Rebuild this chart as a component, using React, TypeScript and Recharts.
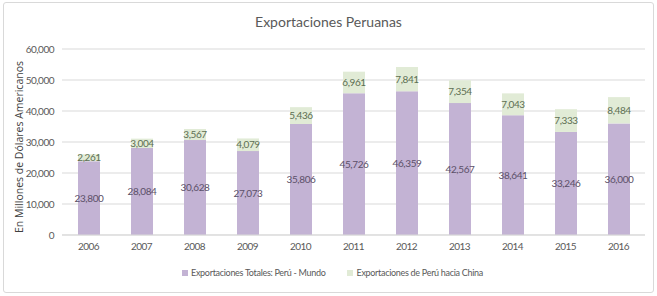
import { Bar, BarChart, CartesianGrid, LabelList, Legend, XAxis, YAxis } from 'recharts'

const years = ['2006', '2007', '2008', '2009', '2010', '2011', '2012', '2013', '2014', '2015', '2016']
const mundo = [23800, 28084, 30628, 27073, 35806, 45726, 46359, 42567, 38641, 33246, 36000]
const china = [2261, 3004, 3567, 4079, 5436, 6961, 7841, 7354, 7043, 7333, 8484]
const yTicks = [0, 10000, 20000, 30000, 40000, 50000, 60000]

// Calibri-like look: Lato squeezed a little
const FONT = 'Lato, sans-serif'
const PURPLE = '#c3b3d4'
const GREEN = '#e1ebd6'

const fmt = (v: number) => v.toLocaleString('en-US')

function LegendBox() {
  const item = (color: string, text: string) => (
    <div style={{ display: 'flex', alignItems: 'center', gap: 3 }}>
      <span style={{ width: 6, height: 6, background: color, display: 'inline-block' }} />
      <span>{text}</span>
    </div>
  )
  return (
    <div
      style={{
        display: 'flex',
        justifyContent: 'center',
        gap: 22,
        fontFamily: FONT,
        fontSize: 9,
        letterSpacing: -0.3,
        color: '#595959',
        paddingLeft: 8,
      }}
    >
      {item(PURPLE, 'Exportaciones Totales: Perú - Mundo')}
      {item(GREEN, 'Exportaciones de Perú hacia China')}
    </div>
  )
}

export default function App() {
  const chartData = years.map((year, i) => ({
    year,
    mundo: mundo[i],
    china: china[i],
  }))

  const tickStyle = { fontSize: 10, fill: '#595959', fontFamily: FONT, letterSpacing: -0.5 }

  return (
    <div style={{ position: 'absolute', left: 0, top: 0, width: 657, height: 296, background: '#fff' }}>
      <div
        style={{
          position: 'absolute',
          left: 3,
          top: 2,
          width: 649,
          height: 289,
          border: '1px solid #d9d9d9',
          borderRadius: 3,
        }}
      />
      <div
        style={{
          position: 'absolute',
          left: 0,
          top: 13,
          width: 657,
          textAlign: 'center',
          fontFamily: FONT,
          fontSize: 14,
          color: '#595959',
        }}
      >
        Exportaciones Peruanas
      </div>
      <BarChart
        width={657}
        height={296}
        data={chartData}
        margin={{ top: 49, right: 12, bottom: 36, left: 0 }}
        barSize={22}
        style={{ position: 'absolute', left: 0, top: 0 }}
      >
        <CartesianGrid vertical={false} stroke='#d9d9d9' />
        <XAxis
          dataKey='year'
          tickLine={false}
          axisLine={{ stroke: '#d9d9d9' }}
          height={25}
          tick={tickStyle}
        />
        <YAxis
          width={62}
          domain={[0, 60000]}
          ticks={yTicks}
          tickLine={false}
          axisLine={false}
          tickFormatter={fmt}
          tick={tickStyle}
          label={{
            content: () => (
              <text
                x={20}
                y={147}
                transform='rotate(-90 20 147)'
                textAnchor='middle'
                dominantBaseline='middle'
                fontSize={10.5}
                fill='#404040'
                fontFamily="'Open Sans', sans-serif"
              >
                En Millones de Dólares Americanos
              </text>
            ),
          }}
        />
        <Legend
          layout='horizontal'
          verticalAlign='middle'
          align='center'
          content={() => <LegendBox />}
          wrapperStyle={{ top: 267, left: 0, width: 657 }}
        />
        <Bar dataKey='mundo' stackId='a' fill={PURPLE} isAnimationActive={false}>
          <LabelList
            dataKey='mundo'
            position='center'
            formatter={(v: any) => fmt(Number(v))}
            style={{ fontSize: 10, fill: '#5b5068', fontFamily: FONT, letterSpacing: -0.4 }}
          />
        </Bar>
        <Bar dataKey='china' stackId='a' fill={GREEN} isAnimationActive={false}>
          <LabelList
            dataKey='china'
            position='center'
            formatter={(v: any) => fmt(Number(v))}
            style={{ fontSize: 10, fill: '#5d6e52', fontFamily: FONT, letterSpacing: -0.4 }}
          />
        </Bar>
      </BarChart>
    </div>
  )
}
